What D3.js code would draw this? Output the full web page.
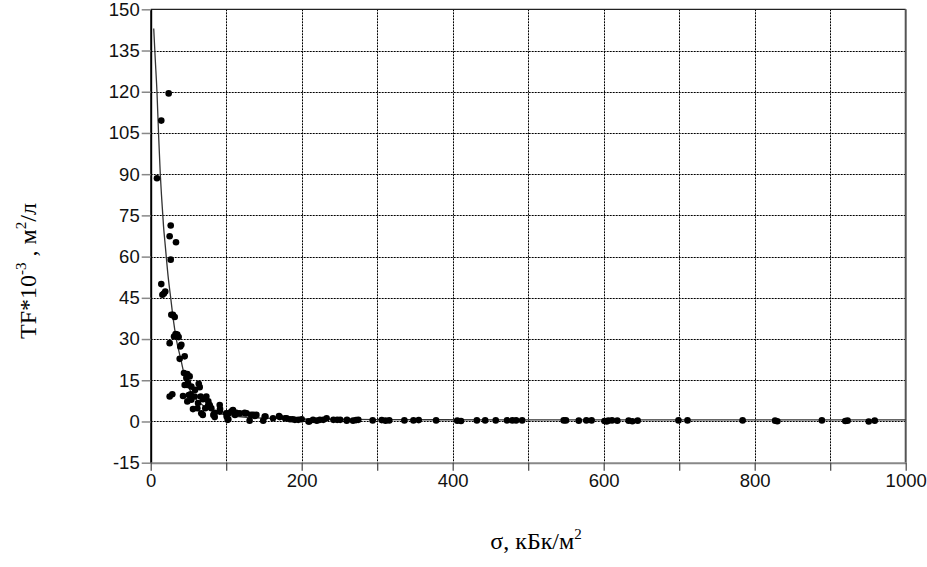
<!DOCTYPE html>
<html>
<head>
<meta charset="utf-8">
<script src="https://cdn.jsdelivr.net/npm/d3@7"></script>
<style>
  body { margin: 0; background: #fff; }
  svg { display: block; }
</style>
</head>
<body>
<svg id="chart" width="927" height="567" viewBox="0 0 927 567"></svg>
<script>
// measured points: sigma (kBq/m2) and TF*10^-3
const pointSigma = [
    8.3, 14.0, 23.8, 26.5, 25.1, 33.5, 26.5, 14.0, 15.5, 19.3, 17.5,
    27.3, 29.5, 31.8, 30.9, 33.0, 35.2, 37.0, 25.1, 39.2, 40.6, 45.0, 38.4,
    44.1, 48.5, 51.6, 47.2, 45.0, 49.4, 53.8, 63.6, 64.9, 58.7, 48.5,
    28.6, 25.1, 42.8, 53.0, 58.3, 66.2, 73.7, 69.3, 50.5,
    48.5, 53.8, 62.7, 78.1, 91.4, 76.3, 78.5, 76.0,
    56.0, 61.8, 72.3, 80.3, 91.8, 109, 108.6,
    67.0, 84.8, 91.4, 100, 106.8, 113.4, 124.5, 118, 127, 102.8, 125,
    133, 140, 136, 111.6, 138, 69, 83, 84.8, 100.6, 102, 131, 102.8,
    149, 151, 152, 162, 170, 171, 178, 180, 184.5, 188, 191, 195.5,
    200, 209, 210, 215, 220, 224, 228.6, 233, 242, 247, 251, 259.6,
    260, 268, 272, 275, 294, 306, 311, 316, 336, 348, 355, 378,
    406, 411, 432, 443, 457, 472, 479, 484, 492,
    547, 550, 567, 577, 584, 601, 604, 606, 611, 618, 633, 638, 645,
    699, 711, 784, 827, 830, 889, 920, 923, 951, 959
];
const pointTF = [
    88.5, 109.5, 119.4, 71.3, 67.4, 65.2, 58.9, 50.0, 46.1, 47.3, 46.6,
    38.8, 38.8, 38.0, 30.9, 31.8, 31.6, 30.7, 28.5, 27.3, 27.9, 23.7, 22.8,
    17.6, 17.3, 16.4, 15.8, 13.3, 14.0, 12.7, 13.7, 12.5, 11.5, 13.3,
    9.9, 9.1, 9.3, 9.9, 9.1, 9.1, 9.1, 8.1, 9.6,
    7.3, 7.9, 6.7, 6.0, 6.0, 7.3, 5.4, 5.7,
    4.5, 4.8, 4.8, 4.8, 4.5, 4.2, 4.0,
    3.0, 3.2, 3.6, 3.0, 3.6, 3.2, 3.2, 3.0, 3.0, 3.0, 3.0,
    2.4, 2.4, 2.4, 2.4, 2.0, 2.4, 2.4, 1.6, 1.8, 0.6, 0.3, 0.8,
    0.3, 1.8, 1.8, 1.2, 2.0, 1.6, 1.2, 1.2, 0.8, 0.8, 0.6, 0.6,
    0.8, 0.0, 0.0, 0.6, 0.3, 0.6, 0.6, 1.2, 0.6, 0.6, 0.6, 0.3,
    0.6, 0.3, 0.5, 0.6, 0.4, 0.5, 0.3, 0.4, 0.4, 0.4, 0.5, 0.4,
    0.3, 0.2, 0.4, 0.4, 0.4, 0.4, 0.4, 0.4, 0.4,
    0.4, 0.4, 0.3, 0.4, 0.4, 0.2, 0.0, 0.3, 0.4, 0.3, 0.3, 0.1, 0.3,
    0.4, 0.4, 0.4, 0.3, 0.1, 0.4, 0.2, 0.3, 0.0, 0.3
];

// fitted curve
const curveSigma = [4, 6, 8.3, 10.5, 12.7, 14.6, 17, 19.3, 23, 26.5, 30, 33.9,
    40, 45.8, 55, 71.5, 90, 110, 140, 200, 300, 500, 1000];
const curveTF = [143, 132, 120, 104, 90, 81, 71, 64, 53, 45, 37, 30,
    22.5, 15.5, 10, 5.4, 3, 2, 1.3, 0.9, 0.7, 0.6, 0.6];

const yTicks = [-15, 0, 15, 30, 45, 60, 75, 90, 105, 120, 135, 150];
const xTicks = [0, 100, 200, 300, 400, 500, 600, 700, 800, 900, 1000];

const svg = d3.select("#chart");
const plotLeft = 150.7, plotRight = 905.7, plotTop = 9.3, plotBottom = 462.7;

const x = d3.scaleLinear().domain([0, 1000]).range([plotLeft, plotRight]);
const y = d3.scaleLinear().domain([-15, 150]).range([plotBottom, plotTop]);

// dotted grid
const grid = svg.append("g")
    .attr("stroke", "#000")
    .attr("stroke-width", 1)
    .attr("stroke-dasharray", "2,1");
grid.selectAll(".hg")
    .data(yTicks.filter(d => d > -15 && d < 150))
    .enter().append("line")
    .attr("x1", plotLeft).attr("x2", plotRight)
    .attr("y1", d => Math.round(y(d)) + 0.5)
    .attr("y2", d => Math.round(y(d)) + 0.5);
grid.selectAll(".vg")
    .data(xTicks.filter(d => d > 0 && d < 1000))
    .enter().append("line")
    .attr("y1", plotTop).attr("y2", plotBottom)
    .attr("x1", d => Math.round(x(d)) + 0.5)
    .attr("x2", d => Math.round(x(d)) + 0.5);

// frame top / right
svg.append("line")
    .attr("x1", plotLeft).attr("x2", plotRight).attr("y1", plotTop).attr("y2", plotTop)
    .attr("stroke", "#222").attr("stroke-width", 1.2);
svg.append("line")
    .attr("x1", plotRight).attr("x2", plotRight).attr("y1", plotTop).attr("y2", plotBottom)
    .attr("stroke", "#555").attr("stroke-width", 2);

// axes (plain hyphen for negatives, like the original)
const yAxis = svg.append("g")
    .attr("transform", `translate(${plotLeft},0)`)
    .call(d3.axisLeft(y).tickValues(yTicks).tickSize(9).tickPadding(2).tickSizeOuter(0)
        .tickFormat(d => String(d)));
yAxis.select(".domain").attr("stroke", "#000").attr("stroke-width", 2);
yAxis.selectAll(".tick line").attr("stroke", "#888").attr("stroke-width", 1.5);

const xAxis = svg.append("g")
    .attr("transform", `translate(0,${plotBottom})`)
    .call(d3.axisBottom(x).tickValues(xTicks).tickSize(8).tickPadding(3).tickSizeOuter(0)
        .tickFormat(d => d % 200 === 0 ? String(d) : ""));
xAxis.select(".domain").attr("stroke", "#888").attr("stroke-width", 2);
xAxis.selectAll(".tick line").attr("stroke", "#444").attr("stroke-width", 1.2);

svg.selectAll(".tick text")
    .attr("font-family", "'Liberation Sans', Arial, sans-serif")
    .attr("font-size", 18.5)
    .attr("fill", "#111");

// curve
const curveData = curveSigma.map((s, i) => ({ s: s, v: curveTF[i] }));
svg.append("path")
    .datum(curveData)
    .attr("fill", "none")
    .attr("stroke", "#333")
    .attr("stroke-width", 1.3)
    .attr("d", d3.line().x(d => x(d.s)).y(d => y(d.v)).curve(d3.curveMonotoneX));

// points
const points = pointSigma.map((s, i) => ({ s: s, v: pointTF[i] }));
svg.append("g").selectAll("circle")
    .data(points)
    .enter().append("circle")
    .attr("cx", d => x(d.s))
    .attr("cy", d => y(d.v))
    .attr("r", 3.3)
    .attr("fill", "#000");

// titles
const serif = "'Liberation Serif', 'Times New Roman', serif";
const xt = svg.append("text")
    .attr("x", 536).attr("y", 549)
    .attr("text-anchor", "middle")
    .attr("font-family", serif).attr("font-size", 24);
xt.append("tspan").text("σ, кБк/м");
xt.append("tspan").attr("font-size", 15).attr("dy", -10).text("2");

const yt = svg.append("text")
    .attr("transform", "translate(36,271) rotate(-90)")
    .attr("text-anchor", "middle")
    .attr("font-family", serif).attr("font-size", 24);
yt.append("tspan").text("TF*10");
yt.append("tspan").attr("font-size", 15).attr("dy", -10).text("-3");
yt.append("tspan").attr("dy", 10).text(" ,  м");
yt.append("tspan").attr("font-size", 15).attr("dy", -10).text("2");
yt.append("tspan").attr("dy", 10).text("/л");
</script>
</body>
</html>
